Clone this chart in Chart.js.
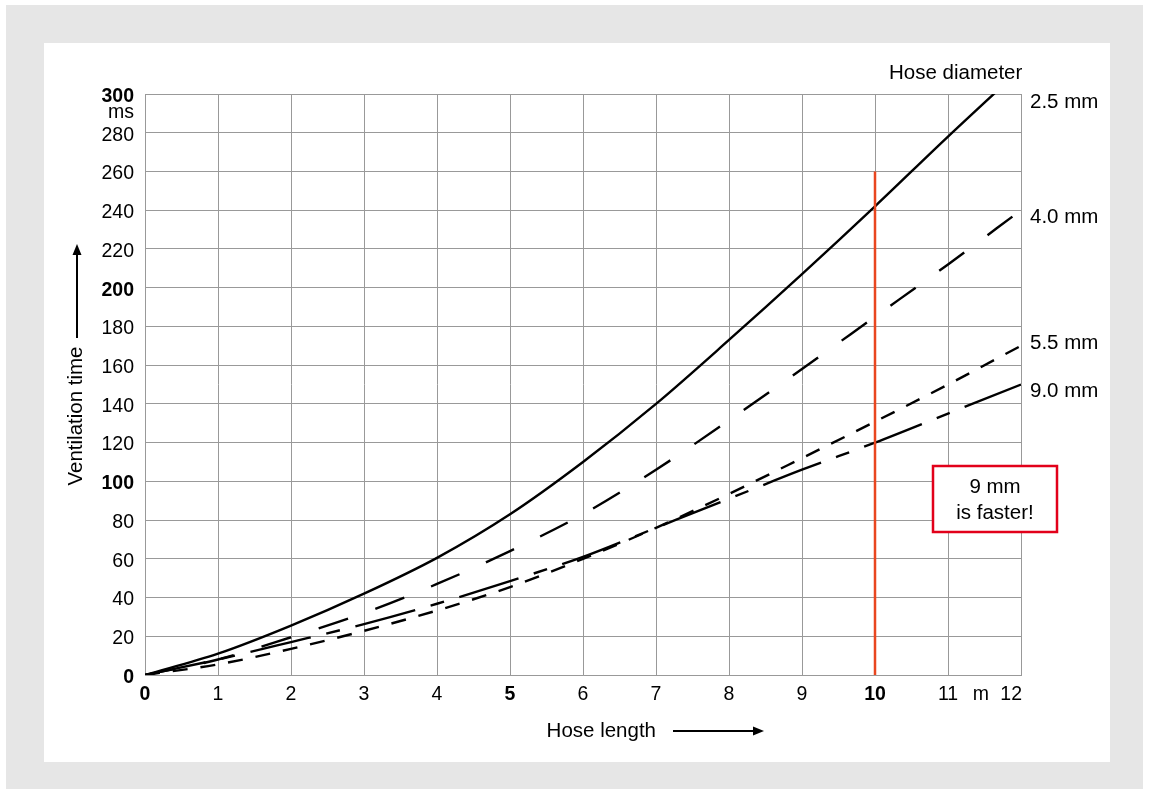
<!DOCTYPE html>
<html>
<head>
<meta charset="utf-8">
<title>Ventilation time vs hose length</title>
<script src="https://cdn.jsdelivr.net/npm/chart.js@4.4.1/dist/chart.umd.min.js"></script>
<style>
    html, body { margin: 0; padding: 0; background: #ffffff; }
    #ventChart { display: block; }
</style>
</head>
<body>
<canvas id="ventChart" width="1149" height="794"></canvas>
<script>
// số liệu (ms theo chiều dài ống, m)
const hoseLength = [0, 1, 2, 3, 4, 5, 6, 7, 8, 9, 10, 11, 12];
const time25 = [0, 11, 25.5, 42, 60.5, 83, 110, 140, 173, 207, 242, 278, 313];
const time40 = [0, 8, 19.5, 32, 47, 64, 83, 106, 131.5, 158, 185, 212, 240];
const time55 = [0, 5.5, 13.5, 22.8, 33.3, 45.4, 60, 76, 93.5, 112, 130.8, 150, 170];
const time90 = [0, 8, 17, 26.3, 36.8, 48.5, 61, 76, 91, 106, 120, 135, 150];
const diameterLabels = ['2.5 mm', '4.0 mm', '5.5 mm', '9.0 mm'];

const yTicks = [0, 20, 40, 60, 80, 100, 120, 140, 160, 180, 200, 220, 240, 260, 280, 300];
const yBold = [0, 100, 200, 300];
const xTicks = [0, 1, 2, 3, 4, 5, 6, 7, 8, 9, 10, 11, 12];
const xBold = [0, 5, 10];

// vạch đỏ ở 10 m
const markLength = 10;
const markTime = 260;
const noteLines = ['9 mm', 'is faster!'];

document.addEventListener('DOMContentLoaded', function () {
    var vent_chart = (function () {
        var FONT = '"Liberation Sans", Arial, Helvetica, sans-serif';

        function toPoints(ys) {
            return hoseLength.map(function (x, i) { return { x: x, y: ys[i] }; });
        }

        function arrow(ctx, x1, y1, x2, y2) {
            var ang = Math.atan2(y2 - y1, x2 - x1);
            var head = 11;
            ctx.beginPath();
            ctx.moveTo(x1, y1);
            ctx.lineTo(x2 - head * Math.cos(ang), y2 - head * Math.sin(ang));
            ctx.lineWidth = 2;
            ctx.strokeStyle = '#000';
            ctx.stroke();
            ctx.beginPath();
            ctx.moveTo(x2, y2);
            ctx.lineTo(x2 - head * Math.cos(ang) + 4.5 * Math.sin(ang), y2 - head * Math.sin(ang) - 4.5 * Math.cos(ang));
            ctx.lineTo(x2 - head * Math.cos(ang) - 4.5 * Math.sin(ang), y2 - head * Math.sin(ang) + 4.5 * Math.cos(ang));
            ctx.closePath();
            ctx.fillStyle = '#000';
            ctx.fill();
        }

        // nền xám + khung trắng
        var paperPlugin = {
            id: 'paper',
            beforeDraw: function (chart) {
                var ctx = chart.ctx;
                ctx.save();
                ctx.fillStyle = '#ffffff';
                ctx.fillRect(0, 0, chart.width, chart.height);
                ctx.fillStyle = '#e6e6e6';
                ctx.fillRect(6, 5, 1137, 784);
                ctx.fillStyle = '#ffffff';
                ctx.fillRect(44, 43, 1066, 719);
                ctx.restore();
            }
        };

        // chữ, nhãn trục, mũi tên, hộp ghi chú
        var labelPlugin = {
            id: 'labels',
            afterDraw: function (chart) {
                var ctx = chart.ctx;
                var xs = chart.scales.x, ys = chart.scales.y;
                var area = chart.chartArea;
                ctx.save();
                ctx.fillStyle = '#000';

                // y ticks
                ctx.textAlign = 'right';
                ctx.textBaseline = 'middle';
                yTicks.forEach(function (v) {
                    ctx.font = (yBold.indexOf(v) >= 0 ? 'bold ' : '') + '19.5px ' + FONT;
                    ctx.fillText(String(v), area.left - 11, ys.getPixelForValue(v) + 2.5);
                });
                ctx.font = '19.5px ' + FONT;
                ctx.fillText('ms', area.left - 11, ys.getPixelForValue(300) + 19);

                // x ticks
                ctx.textAlign = 'center';
                xTicks.forEach(function (v) {
                    ctx.font = (xBold.indexOf(v) >= 0 ? 'bold ' : '') + '19.5px ' + FONT;
                    var px = xs.getPixelForValue(v);
                    if (v === 12) {
                        ctx.textAlign = 'right';
                        ctx.fillText(String(v), px + 1, area.bottom + 20);
                        ctx.textAlign = 'center';
                    } else {
                        ctx.fillText(String(v), px, area.bottom + 20);
                    }
                });
                ctx.font = '19.5px ' + FONT;
                ctx.fillText('m', xs.getPixelForValue(11.45), area.bottom + 20);

                // tiêu đề trục
                ctx.font = '20.5px ' + FONT;
                ctx.textAlign = 'right';
                ctx.fillText('Hose length', 656, 731);
                arrow(ctx, 673, 731, 764, 731);

                ctx.save();
                ctx.translate(76, 416);
                ctx.rotate(-Math.PI / 2);
                ctx.textAlign = 'center';
                ctx.fillText('Ventilation time', 0, 0);
                ctx.restore();
                arrow(ctx, 77, 338, 77, 244);

                // nhãn đường kính ống bên phải
                ctx.textAlign = 'left';
                ctx.fillText('Hose diameter', 889, 73);
                var ends = [time25, time40, time55, time90];
                var dy = [8, 7, -2, 6.5];
                diameterLabels.forEach(function (lab, i) {
                    var last = Math.min(ends[i][ends[i].length - 1], 300);
                    ctx.fillText(lab, area.right + 9, ys.getPixelForValue(last) + dy[i]);
                });

                // hộp "9 mm is faster!"
                var bx = 933, by = 466, bw = 124, bh = 66;
                ctx.fillStyle = '#ffffff';
                ctx.fillRect(bx, by, bw, bh);
                ctx.strokeStyle = '#e2001a';
                ctx.lineWidth = 2.5;
                ctx.strokeRect(bx, by, bw, bh);
                ctx.fillStyle = '#000';
                ctx.textAlign = 'center';
                ctx.fillText(noteLines[0], bx + bw / 2, by + 21);
                ctx.fillText(noteLines[1], bx + bw / 2, by + 47);

                ctx.restore();
            }
        };

        function load_chart() {
            var ctx = document.getElementById('ventChart').getContext('2d');
            var lineBase = {
                borderColor: '#000000',
                borderWidth: 2.4,
                pointRadius: 0,
                fill: false,
                cubicInterpolationMode: 'monotone'
            };
            return new Chart(ctx, {
                type: 'line',
                data: {
                    datasets: [
                        Object.assign({}, lineBase, { label: diameterLabels[0], data: toPoints(time25), order: 4 }),
                        Object.assign({}, lineBase, { label: diameterLabels[1], data: toPoints(time40), borderDash: [31, 29], order: 3 }),
                        Object.assign({}, lineBase, { label: diameterLabels[2], data: toPoints(time55), borderDash: [15, 13], order: 2 }),
                        Object.assign({}, lineBase, { label: diameterLabels[3], data: toPoints(time90), borderDash: [62, 16, 14, 16], order: 1 }),
                        {
                            label: 'mark',
                            data: [{ x: markLength, y: 0 }, { x: markLength, y: markTime }],
                            borderColor: '#e9461f',
                            borderWidth: 2.5,
                            pointRadius: 0,
                            fill: false,
                            order: 0
                        }
                    ]
                },
                options: {
                    responsive: false,
                    animation: false,
                    layout: { padding: { left: 145, top: 94, right: 128, bottom: 119 } },
                    plugins: {
                        legend: { display: false },
                        tooltip: { enabled: false }
                    },
                    scales: {
                        x: {
                            type: 'linear',
                            min: 0,
                            max: 12,
                            ticks: { stepSize: 1, display: false },
                            grid: { color: '#999999', lineWidth: 1, drawTicks: false },
                            border: { color: '#999999' }
                        },
                        y: {
                            type: 'linear',
                            min: 0,
                            max: 300,
                            ticks: { stepSize: 20, display: false },
                            grid: { color: '#999999', lineWidth: 1, drawTicks: false },
                            border: { color: '#999999' }
                        }
                    }
                },
                plugins: [paperPlugin, labelPlugin]
            });
        }

        return {
            init: function () {
                load_chart();
            }
        };
    })();

    vent_chart.init();
});
</script>
</body>
</html>
